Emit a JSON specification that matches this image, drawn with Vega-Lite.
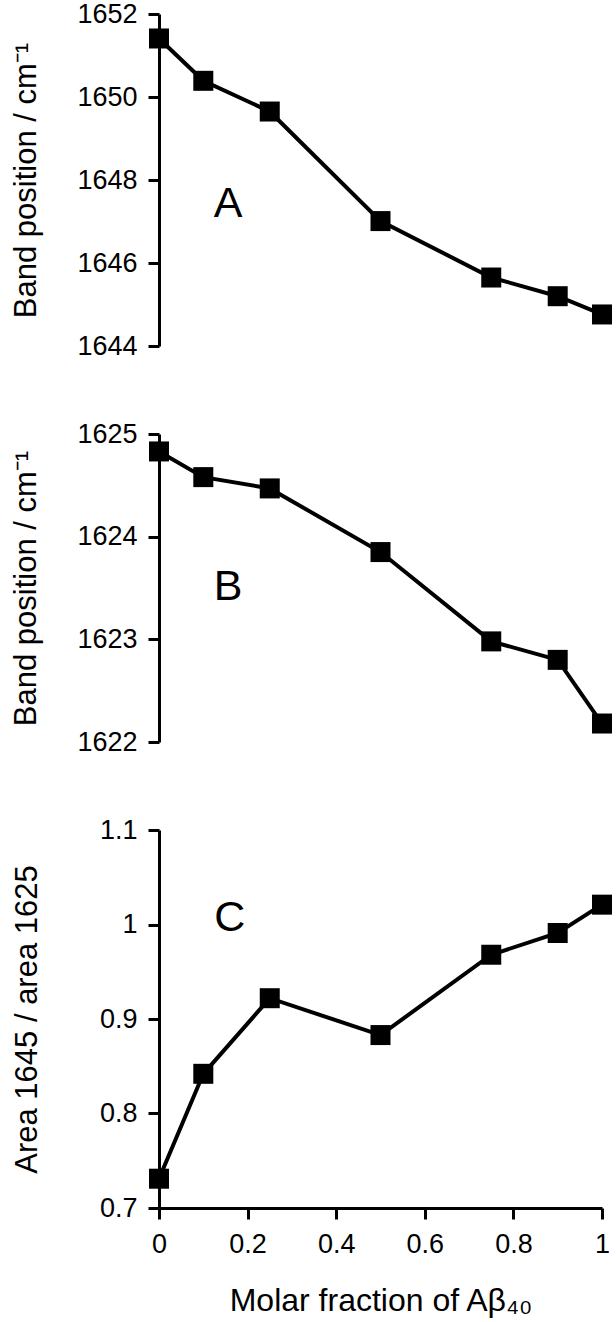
{
  "$schema": "https://vega.github.io/schema/vega-lite/v6.json",
  "background": "white",
  "padding": {"left": 10, "top": 0, "right": 5, "bottom": 5},
  "bounds": "flush",
  "spacing": 88,
  "config": {
    "view": {"stroke": null},
    "font": "Liberation Sans",
    "axis": {
      "grid": false,
      "domainColor": "black",
      "domainWidth": 3,
      "tickColor": "black",
      "tickWidth": 3,
      "tickSize": 11,
      "labelColor": "black",
      "labelFont": "Liberation Sans",
      "labelFontSize": 27,
      "labelPadding": 11,
      "labelFlush": false,
      "titleFont": "Liberation Sans",
      "titleFontSize": 31,
      "titleFontWeight": "normal",
      "titleColor": "black"
    }
  },
  "datasets": {
    "d": [
      {"x": 0, "A": 1651.41, "B": 1624.83, "C": 0.731},
      {"x": 0.1, "A": 1650.39, "B": 1624.58, "C": 0.842},
      {"x": 0.25, "A": 1649.65, "B": 1624.47, "C": 0.922},
      {"x": 0.5, "A": 1647.01, "B": 1623.85, "C": 0.883},
      {"x": 0.75, "A": 1645.65, "B": 1622.98, "C": 0.968},
      {"x": 0.9, "A": 1645.2, "B": 1622.8, "C": 0.991},
      {"x": 1, "A": 1644.76, "B": 1622.18, "C": 1.021}
    ],
    "lab": [
      {"t": "A", "x": 0.156, "A": 1647.42},
      {"t": "B", "x": 0.156, "B": 1623.51},
      {"t": "C", "x": 0.16, "C": 1.007}
    ]
  },
  "vconcat": [
    {
      "width": 443,
      "height": 332,
      "encoding": {
        "x": {"field": "x", "type": "quantitative", "scale": {"domain": [0, 1], "nice": false}, "axis": null},
        "y": {"field": "A", "type": "quantitative", "scale": {"domain": [1644, 1652], "zero": false, "nice": false},
              "axis": {"values": [1644, 1646, 1648, 1650, 1652], "format": "d", "title": "Band position / cm⁻¹", "titlePadding": 34}}
      },
      "layer": [
        {"data": {"name": "d"}, "mark": {"type": "line", "color": "black", "strokeWidth": 4}},
        {"data": {"name": "d"}, "mark": {"type": "point", "shape": "square", "filled": true, "size": 400, "color": "black", "opacity": 1}},
        {"data": {"name": "lab"}, "transform": [{"filter": "datum.t === 'A'"}],
         "mark": {"type": "text", "fontSize": 43, "font": "Liberation Sans", "color": "black"},
         "encoding": {"text": {"field": "t"}}}
      ]
    },
    {
      "width": 443,
      "height": 308,
      "encoding": {
        "x": {"field": "x", "type": "quantitative", "scale": {"domain": [0, 1], "nice": false}, "axis": null},
        "y": {"field": "B", "type": "quantitative", "scale": {"domain": [1622, 1625], "zero": false, "nice": false},
              "axis": {"values": [1622, 1623, 1624, 1625], "format": "d", "title": "Band position / cm⁻¹", "titlePadding": 34}}
      },
      "layer": [
        {"data": {"name": "d"}, "mark": {"type": "line", "color": "black", "strokeWidth": 4}},
        {"data": {"name": "d"}, "mark": {"type": "point", "shape": "square", "filled": true, "size": 400, "color": "black", "opacity": 1}},
        {"data": {"name": "lab"}, "transform": [{"filter": "datum.t === 'B'"}],
         "mark": {"type": "text", "fontSize": 43, "font": "Liberation Sans", "color": "black"},
         "encoding": {"text": {"field": "t"}}}
      ]
    },
    {
      "width": 443,
      "height": 378,
      "encoding": {
        "x": {"field": "x", "type": "quantitative", "scale": {"domain": [0, 1], "nice": false},
              "axis": {"values": [0, 0.2, 0.4, 0.6, 0.8, 1], "format": "~g", "title": "Molar fraction of Aβ₄₀", "titleFontSize": 32, "labelPadding": 12, "titlePadding": 28}},
        "y": {"field": "C", "type": "quantitative", "scale": {"domain": [0.7, 1.1], "zero": false, "nice": false},
              "axis": {"values": [0.7, 0.8, 0.9, 1, 1.1], "format": "~g", "title": "Area 1645 / area 1625", "titlePadding": 56}}
      },
      "layer": [
        {"data": {"name": "d"}, "mark": {"type": "line", "color": "black", "strokeWidth": 4}},
        {"data": {"name": "d"}, "mark": {"type": "point", "shape": "square", "filled": true, "size": 400, "color": "black", "opacity": 1}},
        {"data": {"name": "lab"}, "transform": [{"filter": "datum.t === 'C'"}],
         "mark": {"type": "text", "fontSize": 43, "font": "Liberation Sans", "color": "black"},
         "encoding": {"text": {"field": "t"}}}
      ]
    }
  ]
}
